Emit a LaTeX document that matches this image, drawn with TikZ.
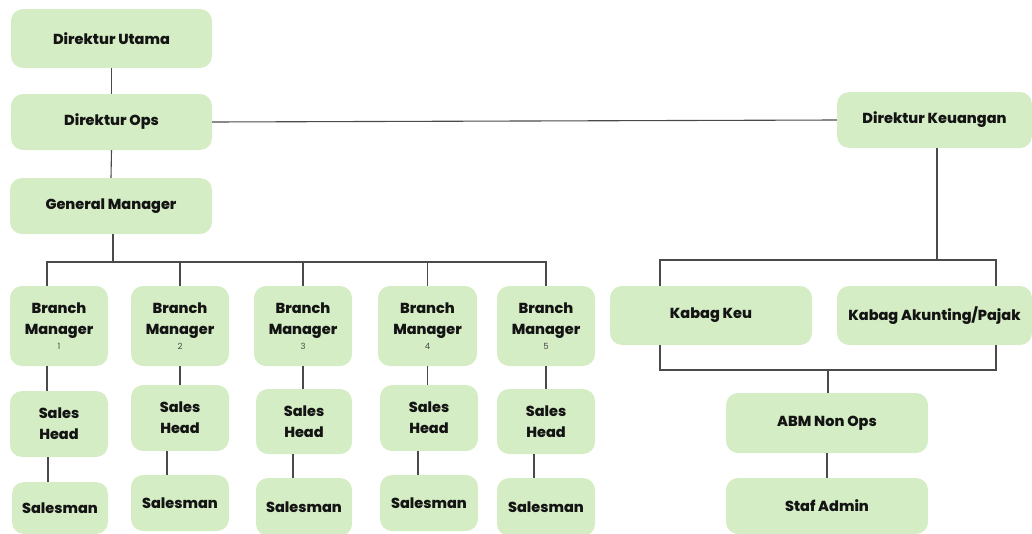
\documentclass[tikz,border=0pt]{standalone}
\usepackage{fontspec}
\setmainfont{Poppins}[BoldFont={* ExtraBold}]
\definecolor{boxfill}{HTML}{D4EDC4}
\definecolor{txt}{HTML}{141414}
\definecolor{ln}{HTML}{4A4A4A}
\tikzset{
  box/.style={fill=boxfill, rounded corners=12pt, inner sep=2pt, align=center,
    text=txt, font=\fontsize{14.5}{21}\selectfont\bfseries},
  conn/.style={draw=ln, line width=1.1pt},
}
\newcommand{\bmnum}[1]{\\[-6pt]{\fontsize{8.5}{9}\selectfont\mdseries\color{ln}#1}}
\begin{document}
\begin{tikzpicture}[x=1pt,y=-1pt]
\useasboundingbox (0,0) rectangle (1032,533);
\clip (0,0) rectangle (1032,533);
% left column
\node[box, minimum width=201pt, minimum height=59pt] (DU) at (111.5,38.5) {Direktur Utama};
\node[box, minimum width=201pt, minimum height=56pt] (DO) at (111.5,122) {Direktur Ops};
\node[box, minimum width=202pt, minimum height=56pt] (GM) at (111,206) {General Manager};
% branch managers
\node[box, minimum width=98pt, minimum height=80pt] (BM1) at (59,326) {Branch\\Manager\bmnum{1}};
\node[box, minimum width=98pt, minimum height=80pt] (BM2) at (180,326) {Branch\\Manager\bmnum{2}};
\node[box, minimum width=98pt, minimum height=80pt] (BM3) at (303,326) {Branch\\Manager\bmnum{3}};
\node[box, minimum width=99pt, minimum height=80pt] (BM4) at (427.5,326) {Branch\\Manager\bmnum{4}};
\node[box, minimum width=98pt, minimum height=80pt] (BM5) at (546,326) {Branch\\Manager\bmnum{5}};
% sales heads
\node[box, minimum width=98pt, minimum height=66pt] (SH1) at (59,424) {Sales\\Head};
\node[box, minimum width=98pt, minimum height=66pt] (SH2) at (180,418) {Sales\\Head};
\node[box, minimum width=96pt, minimum height=65pt] (SH3) at (304,421.5) {Sales\\Head};
\node[box, minimum width=98pt, minimum height=66pt] (SH4) at (429,418) {Sales\\Head};
\node[box, minimum width=98pt, minimum height=65pt] (SH5) at (546,421.5) {Sales\\Head};
% salesmen
\node[box, minimum width=96pt, minimum height=52pt] (S1) at (60,508) {Salesman};
\node[box, minimum width=98pt, minimum height=56pt] (S2) at (180,503) {Salesman};
\node[box, minimum width=96pt, minimum height=58pt] (S3) at (304,507) {Salesman};
\node[box, minimum width=98pt, minimum height=56pt] (S4) at (429,503) {Salesman};
\node[box, minimum width=98pt, minimum height=58pt] (S5) at (546,507) {Salesman};
% right side
\node[box, minimum width=195pt, minimum height=56pt] (DK) at (934.5,120) {Direktur Keuangan};
\node[box, minimum width=202pt, minimum height=59pt] (KK) at (711,315.5) {Kabag Keu};
\node[box, minimum width=195pt, minimum height=59pt] (KA) at (934.5,315.5) {Kabag Akunting/Pajak};
\node[box, minimum width=202pt, minimum height=60pt] (ABM) at (827,423) {ABM Non Ops};
\node[box, minimum width=202pt, minimum height=56pt] (SA) at (827,506) {Staf Admin};
% bus coordinates
\coordinate (gbus) at (113,262);
\coordinate (b1) at (47,262);
\coordinate (kl) at (660,260);
\coordinate (kr) at (996,260);
\coordinate (kdl) at (660,370);
\coordinate (kdr) at (996,370);
\coordinate (ax) at (828,370);
\coordinate (s1x) at (48,0);
\coordinate (s2x) at (167,0);
\coordinate (s3x) at (293,0);
\coordinate (s4x) at (418,0);
\coordinate (s5x) at (534,0);
% connectors
\draw[conn] (DU.south) -- (DO.north);
\draw[conn] (DO.south) -- (GM.north);
\draw[conn] (DO.east) -- (DK.west);
\draw[conn] (GM.south -| gbus) -- (gbus);
\draw[conn] (BM1.north -| b1) -- (b1) -- (BM5.north |- b1) -- (BM5.north);
\draw[conn] (BM2.north) -- (BM2.north |- b1);
\draw[conn] (BM3.north) -- (BM3.north |- b1);
\draw[conn] (BM4.north) -- (BM4.north |- b1);
\draw[conn] ([xshift=-12pt]BM1.south) -- ([xshift=-12pt]SH1.north);
\draw[conn] (BM2.south) -- (SH2.north);
\draw[conn] (BM3.south) -- (BM3.south |- SH3.north);
\draw[conn] (BM4.south) -- (BM4.south |- SH4.north);
\draw[conn] (BM5.south) -- (BM5.south |- SH5.north);
\draw[conn] (SH1.south -| s1x) -- (S1.north -| s1x);
\draw[conn] (SH2.south -| s2x) -- (S2.north -| s2x);
\draw[conn] (SH3.south -| s3x) -- (S3.north -| s3x);
\draw[conn] (SH4.south -| s4x) -- (S4.north -| s4x);
\draw[conn] (SH5.south -| s5x) -- (S5.north -| s5x);
\draw[conn] ([xshift=2.5pt]DK.south) -- ([xshift=2.5pt]DK.south |- kl);
\draw[conn] (KK.north -| kl) -- (kl) -- (kr) -- (KA.north -| kr);
\draw[conn] (KK.south -| kdl) -- (kdl) -- (kdr) -- (KA.south -| kdr);
\draw[conn] (ABM.north -| ax) -- (ax);
\draw[conn] (ABM.south) -- (SA.north);
\end{tikzpicture}
\end{document}
